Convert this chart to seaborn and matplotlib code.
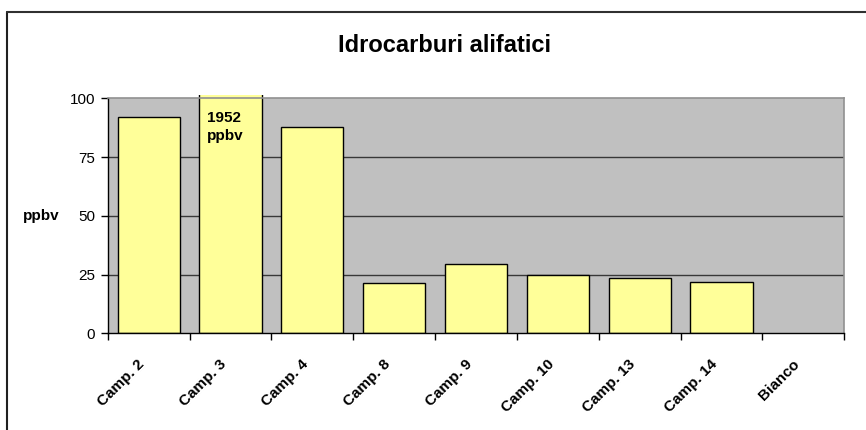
import matplotlib
matplotlib.use("Agg")
import matplotlib.pyplot as plt
from matplotlib.lines import Line2D
from matplotlib.patches import Rectangle
from matplotlib.transforms import ScaledTranslation
import seaborn as sns
import pandas as pd

categories = ["Camp. 2", "Camp. 3", "Camp. 4", "Camp. 8", "Camp. 9",
              "Camp. 10", "Camp. 13", "Camp. 14", "Bianco"]
values = [92, 1952, 88, 21.5, 29.5, 25, 23.7, 22, 0]
yticks = [0, 25, 50, 75, 100]
title = "Idrocarburi alifatici"
ylabel = "ppbv"
note = "1952\nppbv"

sns.set_theme(style="white")
plt.rcParams["font.family"] = ["Liberation Sans", "DejaVu Sans"]
plt.rcParams["text.color"] = "black"
plt.rcParams["axes.labelcolor"] = "black"
plt.rcParams["xtick.color"] = "black"
plt.rcParams["ytick.color"] = "black"

df = pd.DataFrame({"cat": categories, "val": values})

fig = plt.figure(figsize=(8.66, 4.30), dpi=100)
ax = fig.add_axes([107.7 / 866, 1 - 333.3 / 430, (844.3 - 107.7) / 866, (333.3 - 98.3) / 430])
ax.set_facecolor("#C0C0C0")

sns.barplot(data=df, x="cat", y="val", order=categories, color="#FFFF99", saturation=1,
            edgecolor="black", linewidth=1.0, width=0.76, ax=ax, zorder=3)

# clip tall bar slightly above the plot area; hide zero-height outline
clip = Rectangle((0, 0), 1, 1.015, transform=ax.transAxes)
for p in ax.patches:
    if p.get_height() > 100:
        p.set_clip_path(clip)
    if p.get_height() == 0:
        p.set_linewidth(0)

ax.set_xlim(-0.5, len(categories) - 0.5)
ax.set_ylim(0, 100)
ax.set_yticks(yticks)
ax.set_yticklabels([str(t) for t in yticks], fontsize=11)
for y in yticks[1:-1]:
    ax.axhline(y, color="#383838", linewidth=1.0, zorder=1)

ax.set_xticks(range(len(categories)))
ax.set_xticks([i - 0.5 for i in range(len(categories) + 1)], minor=True)
ax.tick_params(axis="x", which="major", length=0, pad=12)
ax.tick_params(axis="x", which="minor", length=5, width=1, color="black", direction="out", bottom=True)
ax.tick_params(axis="y", which="major", length=5, width=1, color="black", direction="out", left=True, pad=4)
ax.set_xticklabels(categories, rotation=45, ha="right", rotation_mode="anchor",
                   fontsize=11, fontweight="bold")
off = ScaledTranslation(-8 / 72, -5 / 72, fig.dpi_scale_trans)
for lab in ax.get_xticklabels():
    lab.set_transform(lab.get_transform() + off)

ax.set_xlabel("")
ax.set_ylabel(ylabel, rotation=0, fontsize=11, fontweight="bold", ha="left", va="center")
ax.yaxis.set_label_coords((23 - 107.7) / 736.6, (333.3 - 216) / 235)

for s in ["left", "bottom"]:
    ax.spines[s].set_color("black")
    ax.spines[s].set_linewidth(1.0)
for s in ["top", "right"]:
    ax.spines[s].set_color("#909090")
    ax.spines[s].set_linewidth(1.2)
for s in ax.spines.values():
    s.set_zorder(4)

ax.text(1 - 0.29, 94.8, note, fontsize=11, fontweight="bold", ha="left", va="top",
        linespacing=1.45, zorder=5)

fig.text(445 / 866, 1 - 45 / 430, title, fontsize=17, fontweight="bold",
         ha="center", va="center")

fig.add_artist(Line2D([7 / 866, 7 / 866], [0, 1 - 12 / 430], color="#202020", linewidth=1.5))
fig.add_artist(Line2D([7 / 866, 1], [1 - 12 / 430, 1 - 12 / 430], color="#303030", linewidth=1.5))

fig.savefig("out.png", dpi=100)
